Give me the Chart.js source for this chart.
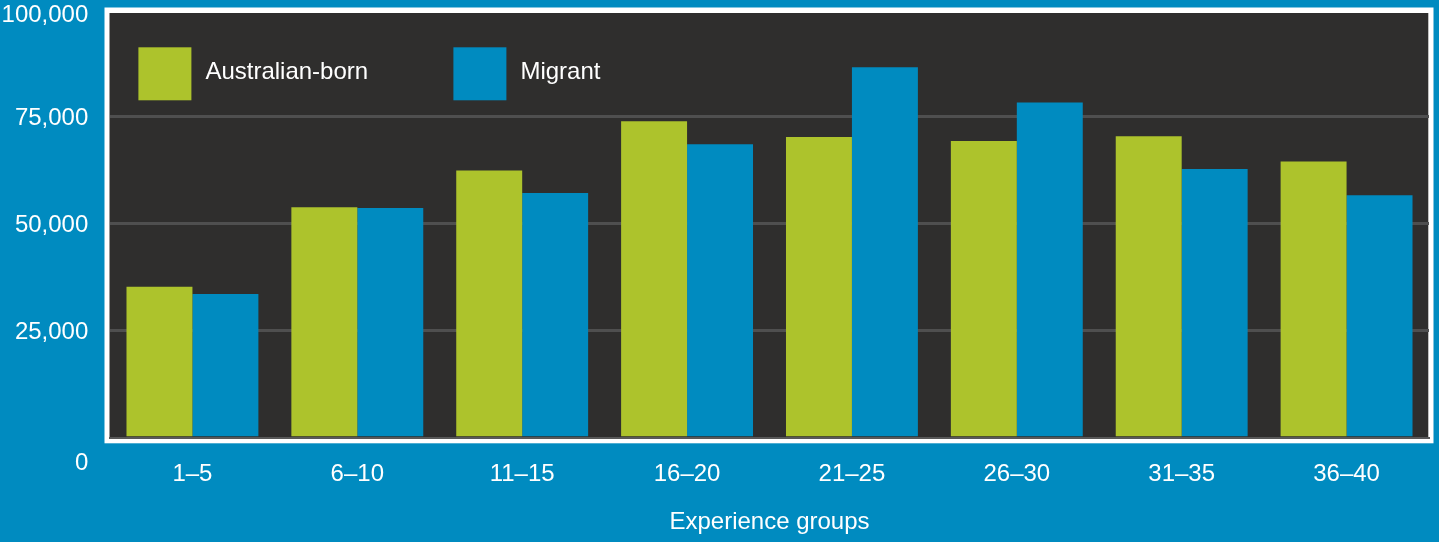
<!DOCTYPE html>
<html>
<head>
<meta charset="utf-8">
<title>Experience groups</title>
<script src="https://cdn.jsdelivr.net/npm/chart.js@4.4.1/dist/chart.umd.min.js"></script>
<style>
  html, body { margin: 0; padding: 0; background: #008bc0; overflow: hidden; }
  canvas { display: block; }
</style>
</head>
<body>
<canvas id="experienceChart" width="1439" height="542"></canvas>
<script>
// chart data
const categories = ['1–5', '6–10', '11–15', '16–20', '21–25', '26–30', '31–35', '36–40'];
const australianBorn = [35300, 53900, 62500, 74000, 70300, 69400, 70500, 64600];
const migrant = [33600, 53700, 57200, 68600, 86600, 78400, 62800, 56700];
const yTicks = [0, 25000, 50000, 75000, 100000];

const GREEN = '#adc32c';
const BLUE = '#008bc0';
const PANEL = '#2f2e2d';
const FONT = '24px "Liberation Sans", Arial, sans-serif';

// white frame + dark panel behind the plot
const panelPlugin = {
    id: 'panel',
    beforeDraw(chart) {
        const { ctx, chartArea: ca } = chart;
        ctx.save();
        ctx.fillStyle = '#ffffff';
        ctx.fillRect(ca.left - 5.5, ca.top - 2.5, (ca.right + 4.5) - (ca.left - 5.5), (ca.bottom + 5.6) - (ca.top - 2.5));
        ctx.fillStyle = PANEL;
        ctx.fillRect(ca.left - 0.5, ca.top + 3, (ca.right - 0.7) - (ca.left - 0.5), ca.bottom - (ca.top + 3));
        ctx.restore();
    }
};

// legend drawn inside the plot, top-left
const insideLegend = {
    id: 'insideLegend',
    afterDatasetsDraw(chart) {
        const { ctx, chartArea: ca } = chart;
        ctx.save();
        chart.data.datasets.forEach((ds, i) => {
            const x = ca.left + 28.4 + i * 315;
            const y = ca.top + 37.3;
            ctx.fillStyle = ds.backgroundColor;
            ctx.fillRect(x, y, 53, 53);
            ctx.fillStyle = '#ffffff';
            ctx.font = FONT;
            ctx.textAlign = 'left';
            ctx.textBaseline = 'middle';
            ctx.fillText(ds.label, x + 67, y + 25);
        });
        ctx.restore();
    }
};

// y labels: top one kept inside the canvas, "0" level with the category labels
const yLabels = {
    id: 'yLabels',
    afterDraw(chart) {
        const { ctx, chartArea: ca } = chart;
        const yScale = chart.scales.y;
        ctx.save();
        ctx.fillStyle = '#ffffff';
        ctx.font = FONT;
        ctx.textAlign = 'right';
        ctx.textBaseline = 'middle';
        yScale.ticks.forEach(t => {
            let y = yScale.getPixelForValue(t.value);
            if (t.value === 0) y += 24;
            y = Math.max(y, ca.top + 4);
            ctx.fillText(t.value.toLocaleString('en-US'), yScale.right - 21.7, y + 1.5);
        });
        ctx.restore();
    }
};

document.addEventListener('DOMContentLoaded', function () {
    const canvas = document.getElementById('experienceChart');
    if (typeof Chart === 'undefined') {
        console.error('Chart.js not loaded!');
        return;
    }

    Chart.defaults.font.family = '"Liberation Sans", Arial, sans-serif';
    Chart.defaults.font.size = 24;
    Chart.defaults.color = '#ffffff';

    new Chart(canvas.getContext('2d'), {
        type: 'bar',
        data: {
            labels: categories,
            datasets: [
                { label: 'Australian-born', data: australianBorn, backgroundColor: GREEN, borderWidth: 0 },
                { label: 'Migrant', data: migrant, backgroundColor: BLUE, borderWidth: 0 }
            ]
        },
        plugins: [panelPlugin, insideLegend, yLabels],
        options: {
            responsive: false,
            animation: false,
            devicePixelRatio: 1,
            layout: { padding: { top: 10, right: 10, bottom: 0, left: 0 } },
            datasets: { bar: { barPercentage: 1.0, categoryPercentage: 0.8 } },
            scales: {
                x: {
                    afterFit(scale) { scale.height = 104.3; scale.paddingLeft = 0; scale.paddingRight = 0; },
                    grid: { display: false, drawTicks: false },
                    border: { display: true, color: '#585858', width: 2 },
                    ticks: { color: '#ffffff', padding: 22, font: { size: 24 } },
                    title: {
                        display: true,
                        text: 'Experience groups',
                        color: '#ffffff',
                        font: { size: 24 },
                        padding: { top: 0, bottom: 5 }
                    }
                },
                y: {
                    min: 0,
                    max: 100000,
                    afterFit(scale) { scale.width = 110; scale.paddingTop = 0; scale.paddingBottom = 0; },
                    afterBuildTicks(scale) { scale.ticks = yTicks.map(v => ({ value: v })); },
                    grid: {
                        drawTicks: false,
                        lineWidth: 3,
                        color: (c) => (c.tick && (c.tick.value === 0 || c.tick.value === 100000)) ? 'rgba(0,0,0,0)' : '#4f4f4f'
                    },
                    border: { display: false },
                    ticks: { display: false }
                }
            },
            plugins: {
                legend: { display: false },
                tooltip: { enabled: false }
            }
        }
    });
});
</script>
</body>
</html>
